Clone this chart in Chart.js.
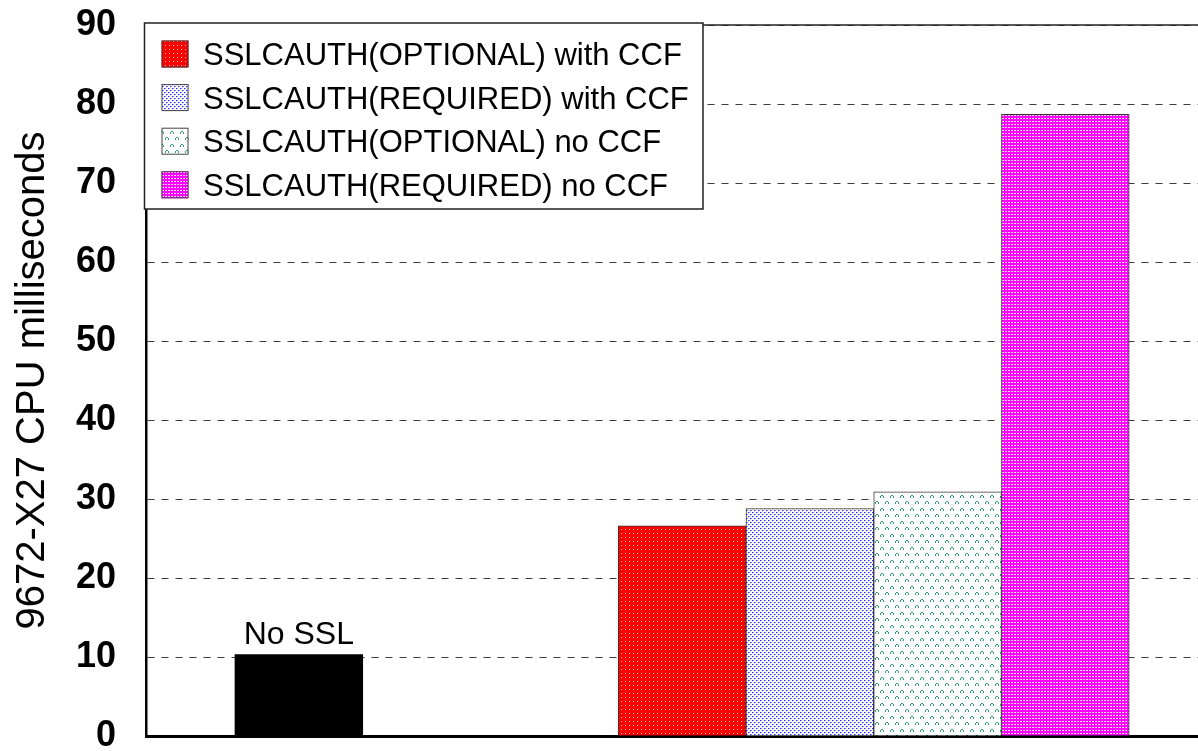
<!DOCTYPE html>
<html>
<head>
<meta charset="utf-8">
<script src="https://cdn.jsdelivr.net/npm/chart.js@4/dist/chart.umd.min.js"></script>
<style>
  html, body { margin: 0; padding: 0; background: #fff; overflow: hidden; }
  #c { display: block; }
</style>
</head>
<body>
<canvas id="c" width="1198" height="751"></canvas>
<script>
// ---- data ----
const baselineLabel = 'No SSL';
const baselineValue = [10.3];
const seriesLabels = [
  'SSLCAUTH(OPTIONAL) with CCF',
  'SSLCAUTH(REQUIRED) with CCF',
  'SSLCAUTH(OPTIONAL) no CCF',
  'SSLCAUTH(REQUIRED) no CCF'
];
const seriesValues = [26.6, 28.8, 30.9, 78.7];
const yTickValues = [0, 10, 20, 30, 40, 50, 60, 70, 80, 90];
const yAxisTitle = '9672-X27 CPU milliseconds';

// ---- layout ----
// x runs in bar-width slots: baseline bar in slot 0, then empty slots, then the SSL group
const GAP_SLOTS = 2;
const X_MIN = -1.1965;
const X_MAX = 7.0383;
const FONT = '"Liberation Sans", Arial, Helvetica, sans-serif';

const canvas = document.getElementById('c');
const ctx = canvas.getContext('2d');

// small repeating fill tiles for the hatched bars
function tile(w, h, bg, pixels) {
  const t = document.createElement('canvas');
  t.width = w; t.height = h;
  const g = t.getContext('2d');
  g.fillStyle = bg;
  g.fillRect(0, 0, w, h);
  for (const [x, y, col] of pixels) {
    g.fillStyle = col;
    g.fillRect(x, y, 1, 1);
  }
  return ctx.createPattern(t, 'repeat');
}

const GREEN = '#2f9f7c';
const fills = [
  // red with light dots
  tile(4, 4, '#ff0000', [[1, 1, '#ffc4c4']]),
  // white with blue speckle
  tile(4, 4, '#ffffff', [[0, 0, '#2f2fff'], [1, 0, '#8a8aff'], [2, 2, '#2f2fff'], [3, 2, '#8a8aff'], [0, 1, '#d8d8ff'], [2, 3, '#d8d8ff']]),
  // white with small green carets
  tile(10, 13, '#ffffff', [
    [1, 1, GREEN], [2, 1, GREEN], [0, 2, GREEN], [3, 2, GREEN], [0, 3, GREEN], [3, 3, GREEN],
    [6, 7, GREEN], [7, 7, GREEN], [5, 8, GREEN], [8, 8, GREEN], [5, 9, GREEN], [8, 9, GREEN]
  ]),
  // magenta with white checker
  tile(3, 3, '#ff00ff', [[1, 1, '#ffffff'], [0, 1, '#ffb8ff']])
];

const datasets = [
  {
    label: baselineLabel,
    data: baselineValue.map(v => ({ x: 0, y: v })),
    backgroundColor: '#000000',
    borderWidth: 0
  },
  ...seriesLabels.map((label, i) => ({
    label: label,
    data: [{ x: GAP_SLOTS + 1 + i, y: seriesValues[i] }],
    backgroundColor: fills[i],
    borderColor: '#333333',
    borderWidth: 1
  }))
];

// solid frame line along the top of the plot
const topFrame = {
  id: 'topFrame',
  afterDatasetsDraw(chart) {
    const a = chart.chartArea;
    const g = chart.ctx;
    g.save();
    g.strokeStyle = '#222';
    g.lineWidth = 1.5;
    g.beginPath();
    g.moveTo(a.left, a.top);
    g.lineTo(a.right, a.top);
    g.stroke();
    g.restore();
  }
};

// category caption above the baseline bar
const baselineCaption = {
  id: 'baselineCaption',
  afterDatasetsDraw(chart) {
    const bar = chart.getDatasetMeta(0).data[0];
    if (!bar) return;
    const g = chart.ctx;
    g.save();
    g.fillStyle = '#000';
    g.font = '32px ' + FONT;
    g.textAlign = 'center';
    g.textBaseline = 'alphabetic';
    g.fillText(chart.data.datasets[0].label, bar.x, bar.y - 11);
    g.restore();
  }
};

// boxed legend inside the plot, listing the SSL series
const boxedLegend = {
  id: 'boxedLegend',
  afterDatasetsDraw(chart) {
    const g = chart.ctx;
    const box = { x: 144.5, y: 23, w: 558.5, h: 186 };
    const sets = chart.data.datasets.slice(1);
    g.save();
    g.fillStyle = '#fff';
    g.fillRect(box.x, box.y, box.w, box.h);
    g.strokeStyle = '#222';
    g.lineWidth = 1.5;
    g.strokeRect(box.x, box.y, box.w, box.h);
    const fontSize = 31;
    g.font = fontSize + 'px ' + FONT;
    g.textAlign = 'left';
    g.textBaseline = 'alphabetic';
    sets.forEach((ds, i) => {
      const cy = 54 + i * 43.6;
      const sx = 161.5, sw = 27;
      g.fillStyle = ds.backgroundColor;
      g.fillRect(sx, cy - sw / 2, sw, sw);
      g.strokeStyle = '#444';
      g.lineWidth = 1;
      g.strokeRect(sx + 0.5, cy - sw / 2 + 0.5, sw - 1, sw - 1);
      g.fillStyle = '#000';
      g.fillText(ds.label, 203, cy + fontSize * 0.358);
    });
    g.restore();
  }
};

new Chart(canvas, {
  type: 'bar',
  data: { datasets },
  options: {
    responsive: false,
    animation: false,
    devicePixelRatio: 1,
    layout: { padding: { top: 25, right: 0, bottom: 0, left: 0 } },
    datasets: {
      bar: { grouped: false, barPercentage: 1, categoryPercentage: 1, borderSkipped: 'start' }
    },
    plugins: {
      legend: { display: false },
      tooltip: { enabled: false }
    },
    scales: {
      x: {
        type: 'linear',
        offset: false,
        min: X_MIN,
        max: X_MAX,
        ticks: { display: false, stepSize: 1 },
        afterBuildTicks: ax => { ax.ticks = ax.ticks.filter(t => Number.isInteger(t.value)); },
        grid: { display: false, drawTicks: false, offset: false },
        border: { display: true, color: '#000', width: 3 },
        afterFit: ax => { ax.height = 15; ax.paddingLeft = 0; ax.paddingRight = 0; }
      },
      y: {
        min: 0,
        max: 90,
        afterBuildTicks: ax => { ax.ticks = yTickValues.map(v => ({ value: v })); },
        ticks: {
          color: '#000',
          padding: 30,
          font: { family: FONT, size: 36, weight: 'bold' }
        },
        grid: { color: '#3c3c3c', lineWidth: 1, drawTicks: false },
        border: { display: true, color: '#000', width: 2.5, dash: [7, 7] },
        title: {
          display: true,
          text: yAxisTitle,
          color: '#000',
          font: { family: FONT, size: 40, weight: 'normal' },
          padding: { top: 9, bottom: 0 }
        },
        afterFit: ax => { ax.width = 146; ax.paddingTop = 0; ax.paddingBottom = 0; }
      }
    }
  },
  plugins: [topFrame, baselineCaption, boxedLegend]
});
</script>
</body>
</html>
